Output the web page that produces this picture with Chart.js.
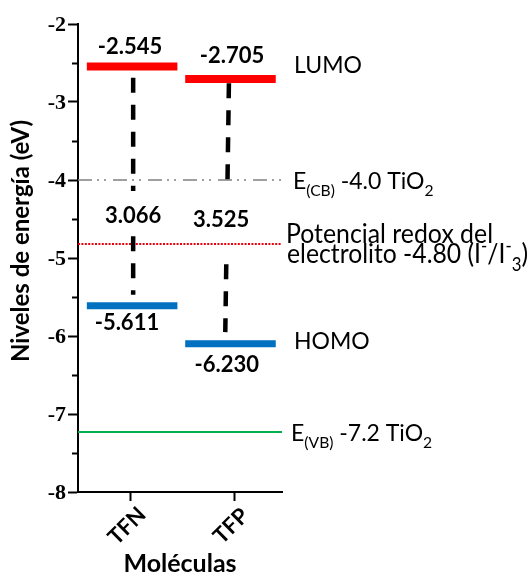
<!DOCTYPE html>
<html>
<head>
<meta charset="utf-8">
<script src="https://cdn.jsdelivr.net/npm/chart.js@4.4.1/dist/chart.umd.min.js"></script>
<style>
  body { margin: 0; background: #fff; }
  #wrap { width: 530px; height: 576px; position: relative; }
</style>
</head>
<body>
<div id="wrap"><canvas id="chart"></canvas></div>
<script>
// Data
const categories = ['TFN', 'TFP'];
const lumo = [-2.545, -2.705];
const homo = [-5.611, -6.10];          // where the HOMO bars sit in the figure
const lumoLabels = ['-2.545', '-2.705'];
const homoLabels = ['-5.611', '-6.230'];
const gapLabels = ['3.066', '3.525'];
const yTicks = [-2, -3, -4, -5, -6, -7, -8];
const tio2CB = -4.0;
const redox = -4.82;
const tio2VB = -7.23;

// Layout (x in axis units, 0..X_MAX)
const X_MAX = 3.92;
const tickX = [1, 3];
const slotX = [1.04, 2.93];
const BAR_HALF = 0.87;
const connX = [[1.06, 1.06], [2.90, 2.83]];
const connInset = [[0.145, 0.14], [0.055, 0.15]];
const connBreak = [[-4.14, -4.72], [-4.0, -5.08]];

const SANS = 'Lato, "Open Sans", sans-serif';
const SERIF = '"Liberation Serif", "Times New Roman", serif';

function levelPoints(values) {
    const pts = [];
    values.forEach((v, i) => {
        pts.push({ x: slotX[i] - BAR_HALF, y: v });
        pts.push({ x: slotX[i] + BAR_HALF, y: v });
        pts.push({ x: slotX[i] + BAR_HALF, y: null });
    });
    return pts;
}

function connectorPoints() {
    const pts = [];
    categories.forEach((c, i) => {
        const yTop = lumo[i] - connInset[i][0];
        const yBot = homo[i] + connInset[i][1];
        const xAt = y => connX[i][0] + (connX[i][1] - connX[i][0]) * (yTop - y) / (yTop - yBot);
        pts.push({ x: xAt(yTop), y: yTop });
        pts.push({ x: xAt(connBreak[i][0]), y: connBreak[i][0] });
        pts.push({ x: xAt(connBreak[i][0]), y: null });
        pts.push({ x: xAt(connBreak[i][1]), y: connBreak[i][1] });
        pts.push({ x: xAt(yBot), y: yBot });
        pts.push({ x: xAt(yBot), y: null });
    });
    return pts;
}

function hline(y) {
    return [{ x: 0, y: y }, { x: X_MAX, y: y }];
}

// rich text: parts [{t, sub, sup}], baseline at y; optional target width stretches horizontally
function drawRich(ctx, parts, x, y, size, width) {
    const fontFor = p => `${(p.sub || p.sup) ? size * 0.68 : size}px ${SANS}`;
    let total = 0;
    parts.forEach(p => { ctx.font = fontFor(p); total += ctx.measureText(p.t).width; });
    const sx = width ? width / total : 1;
    ctx.save();
    ctx.translate(x, y);
    ctx.scale(sx, 1);
    ctx.textAlign = 'left';
    ctx.textBaseline = 'alphabetic';
    let cx = 0;
    parts.forEach(p => {
        ctx.font = fontFor(p);
        const dy = p.sub ? size * 0.28 : (p.sup ? -size * 0.4 : 0);
        ctx.fillText(p.t, cx, dy);
        cx += ctx.measureText(p.t).width;
    });
    ctx.restore();
}

const annotations = {
    id: 'annotations',
    afterDraw(chart) {
        const ctx = chart.ctx;
        const xs = chart.scales.x;
        const ys = chart.scales.y;
        const area = chart.chartArea;
        ctx.save();
        ctx.fillStyle = '#000';

        // minor ticks on y axis
        ctx.strokeStyle = '#000';
        ctx.lineWidth = 2;
        for (let v = -2.5; v > -8; v -= 1) {
            const py = Math.round(ys.getPixelForValue(v)) + 0.5;
            ctx.beginPath();
            ctx.moveTo(area.left - 6, py);
            ctx.lineTo(area.left, py);
            ctx.stroke();
        }

        // y tick labels (serif bold as in the figure)
        ctx.font = `bold 22px ${SERIF}`;
        ctx.textAlign = 'right';
        ctx.textBaseline = 'middle';
        yTicks.forEach(v => ctx.fillText(String(v), area.left - 12, ys.getPixelForValue(v) + 1));

        // y axis title
        ctx.save();
        ctx.translate(21, 241);
        ctx.rotate(-Math.PI / 2);
        ctx.font = `bold 24px ${SANS}`;
        ctx.textAlign = 'center';
        ctx.textBaseline = 'middle';
        ctx.fillText('Niveles de energía (eV)', 0, 0);
        ctx.restore();

        // value labels
        ctx.font = `bold 22px ${SANS}`;
        ctx.textAlign = 'center';
        ctx.textBaseline = 'middle';
        const lumoDx = [1.0, 2.96], lumoDy = [-20, -23];
        const homoDx = [0.94, 2.86], homoDy = [17, 21];
        const gapPos = [[1.06, -4.46], [2.75, -4.51]];
        categories.forEach((c, i) => {
            ctx.fillText(lumoLabels[i], xs.getPixelForValue(lumoDx[i]), ys.getPixelForValue(lumo[i]) + lumoDy[i]);
            ctx.fillText(homoLabels[i], xs.getPixelForValue(homoDx[i]), ys.getPixelForValue(homo[i]) + homoDy[i]);
            ctx.fillText(gapLabels[i], xs.getPixelForValue(gapPos[i][0]), ys.getPixelForValue(gapPos[i][1]));
        });

        // category labels, rotated
        ctx.font = `bold 22px ${SANS}`;
        categories.forEach((c, i) => {
            const px = xs.getPixelForValue(tickX[i]);
            ctx.save();
            ctx.translate(px - 3, area.bottom + 34);
            ctx.rotate(-Math.PI / 4);
            ctx.textAlign = 'center';
            ctx.textBaseline = 'middle';
            ctx.fillText(c, 0, 0);
            ctx.restore();
        });

        // side labels
        const sx = area.right;
        const fs = 23;
        drawRich(ctx, [{ t: 'LUMO' }], sx + 12, ys.getPixelForValue(-2.63), fs);
        drawRich(ctx, [{ t: 'E' }, { t: '(CB)', sub: true }, { t: ' -4.0 TiO' }, { t: '2', sub: true }],
            sx + 11, ys.getPixelForValue(-4.12), fs);
        drawRich(ctx, [{ t: 'Potencial redox del' }], sx + 4, 243, 27, 207);
        drawRich(ctx, [{ t: 'electrolito -4.80 (I' }, { t: '-', sup: true }, { t: '/I' }, { t: '-', sup: true },
            { t: '3', sub: true }, { t: ')' }], sx + 5, 263, 27, 241);
        drawRich(ctx, [{ t: 'HOMO' }], sx + 12, ys.getPixelForValue(-6.17), fs);
        drawRich(ctx, [{ t: 'E' }, { t: '(VB)', sub: true }, { t: ' -7.2 TiO' }, { t: '2', sub: true }],
            sx + 9, ys.getPixelForValue(-7.35), fs);
        ctx.restore();
    }
};

const ctx = document.getElementById('chart').getContext('2d');
const chart = new Chart(ctx, {
    type: 'line',
    data: {
        datasets: [
            {
                data: connectorPoints(),
                borderColor: '#000',
                borderWidth: 4.5,
                borderDash: [15, 12],
                borderCapStyle: 'butt'
            },
            { data: levelPoints(lumo), borderColor: '#ff0000', borderWidth: 8, borderCapStyle: 'butt' },
            { data: levelPoints(homo), borderColor: '#0070c0', borderWidth: 7, borderCapStyle: 'butt' },
            { data: hline(tio2CB), borderColor: '#808080', borderWidth: 1.5, borderDash: [14, 5, 2, 5, 2, 7] },
            { data: hline(redox), borderColor: '#e8000b', borderWidth: 2, borderDash: [2, 1.4] },
            { data: hline(tio2VB), borderColor: '#00b050', borderWidth: 2 }
        ]
    },
    options: {
        responsive: true,
        maintainAspectRatio: false,
        animation: false,
        spanGaps: false,
        elements: { point: { radius: 0 }, line: { tension: 0 } },
        layout: { padding: { top: 24, right: 248, left: 0, bottom: 0 } },
        plugins: { legend: { display: false }, tooltip: { enabled: false } },
        scales: {
            x: {
                type: 'linear',
                min: 0,
                max: X_MAX,
                afterBuildTicks: s => { s.ticks = tickX.map(v => ({ value: v })); },
                afterFit: s => { s.height = 84; },
                grid: { drawOnChartArea: false, tickLength: 9, tickWidth: 2, tickColor: '#000' },
                border: { color: '#000', width: 2 },
                ticks: { display: false },
                title: {
                    display: true,
                    text: 'Moléculas',
                    color: '#000',
                    font: { family: SANS, size: 25, weight: 'bold', lineHeight: 1 },
                    padding: { top: 0, bottom: 0 }
                }
            },
            y: {
                min: -8,
                max: -2,
                afterBuildTicks: s => { s.ticks = yTicks.map(v => ({ value: v })); },
                afterFit: s => { s.width = 78; },
                grid: { drawOnChartArea: false, tickLength: 10, tickWidth: 2, tickColor: '#000' },
                border: { color: '#000', width: 2 },
                ticks: { display: false }
            }
        }
    },
    plugins: [annotations]
});
</script>
</body>
</html>
